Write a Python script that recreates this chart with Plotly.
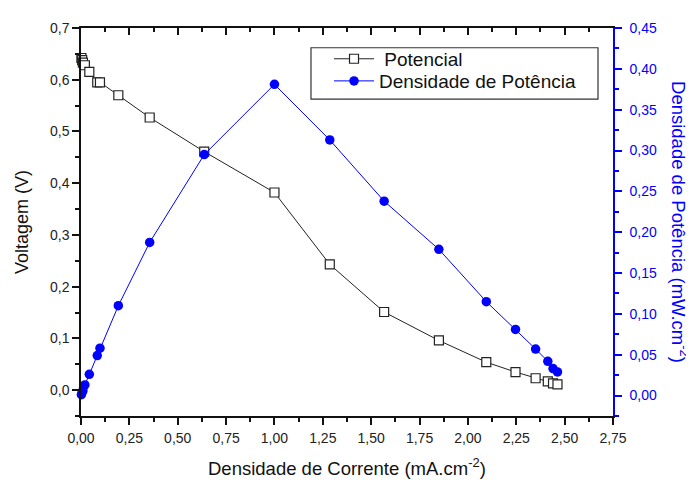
import plotly.graph_objects as go

current = [0.002, 0.006, 0.01, 0.02, 0.043, 0.084, 0.098, 0.193, 0.355, 0.637,
           1.0, 1.286, 1.567, 1.85, 2.095, 2.246, 2.35, 2.413, 2.44, 2.463]
voltage = [0.642, 0.638, 0.633, 0.628, 0.615, 0.595, 0.595, 0.570, 0.527, 0.461,
           0.382, 0.243, 0.151, 0.096, 0.054, 0.035, 0.023, 0.017, 0.013, 0.011]
power = [0.001, 0.004, 0.006, 0.013, 0.026, 0.049, 0.058, 0.110, 0.1875, 0.295,
         0.381, 0.313, 0.238, 0.179, 0.115, 0.081, 0.057, 0.042, 0.033, 0.029]

FONT = "Liberation Sans, Arial, sans-serif"
BLUE = "#0000FF"
DARK = "#111111"

fig = go.Figure()
fig.add_trace(go.Scatter(
    x=current, y=voltage, name="\u00a0Potencial", mode="lines+markers",
    line=dict(color="#222222", width=1),
    marker=dict(symbol="square", size=9, color="white",
                line=dict(width=1.2, color="#222222")),
    cliponaxis=False, xaxis="x", yaxis="y", legend="legend"))
fig.add_trace(go.Scatter(
    x=current, y=power, name="Densidade de Potência", mode="lines+markers",
    line=dict(color=BLUE, width=1),
    marker=dict(symbol="circle", size=9.5, color=BLUE),
    cliponaxis=False, xaxis="x", yaxis="y2", legend="legend2"))
# invisible trace to anchor the top mirror axis
fig.add_trace(go.Scatter(x=[0], y=[0], mode="markers", marker=dict(opacity=0),
                         showlegend=False, hoverinfo="skip", xaxis="x2", yaxis="y"))

common_tick = dict(showgrid=False, zeroline=False, showline=True, linewidth=1.5,
                   ticklen=7, tickwidth=1.5)
legend_style = dict(xanchor="left", yanchor="middle", borderwidth=0,
                    bgcolor="rgba(0,0,0,0)", font=dict(size=19, color=DARK, family=FONT),
                    itemwidth=40)

fig.update_layout(
    width=686, height=472,
    margin=dict(l=73, r=81, t=15, b=64),
    paper_bgcolor="white", plot_bgcolor="white",
    separators=",.",
    font=dict(family=FONT, size=14, color="#222222"),
    showlegend=True,
    legend=dict(x=0.4662, y=0.9203, **legend_style),
    legend2=dict(x=0.4662, y=0.8633, **legend_style),
    xaxis=dict(range=[0, 2.75], dtick=0.25, tick0=0, tickformat=".2f",
               linecolor=DARK, ticks="outside", tickcolor=DARK,
               ticklabelstandoff=1,
               minor=dict(dtick=0.125, ticks="outside", ticklen=4, tickcolor=DARK, tickwidth=1.5),
               tickfont=dict(size=14, color="#222222"), **common_tick),
    xaxis2=dict(range=[0, 2.75], dtick=0.25, tick0=0, overlaying="x", side="top",
                showticklabels=False, linecolor=DARK, ticks="inside", tickcolor=DARK,
                minor=dict(dtick=0.125, ticks="inside", ticklen=4, tickcolor=DARK, tickwidth=1.5),
                **common_tick),
    yaxis=dict(range=[-0.05, 0.7], dtick=0.1, tick0=0, tickformat=".1f",
               linecolor=DARK, ticks="outside", tickcolor=DARK,
               minor=dict(dtick=0.05, ticks="outside", ticklen=4, tickcolor=DARK, tickwidth=1.5),
               tickfont=dict(size=14, color="#222222"), **common_tick),
    yaxis2=dict(range=[-0.025, 0.45], dtick=0.05, tick0=0, tickformat=".2f",
                overlaying="y", side="right",
                linecolor=BLUE, ticks="outside", tickcolor=BLUE,
                ticklabelstandoff=5,
                minor=dict(dtick=0.025, ticks="outside", ticklen=4, tickcolor=BLUE, tickwidth=1.5),
                tickfont=dict(size=14, color=BLUE), **common_tick),
    shapes=[dict(type="rect", xref="paper", yref="paper",
                 x0=0.4323, x1=0.9718, y0=0.8168, y1=0.9491,
                 line=dict(color="#333333", width=1.2), fillcolor="rgba(0,0,0,0)")],
    annotations=[
        dict(text="Densidade de Corrente (mA.cm<sup>-2</sup>)",
             xref="paper", yref="paper", x=0.5, y=-0.1323,
             xanchor="center", yanchor="middle", showarrow=False,
             font=dict(size=18.5, color=DARK, family=FONT)),
        dict(text="Voltagem (V)", textangle=-90,
             xref="paper", yref="paper", x=-0.1109, y=0.5,
             xanchor="center", yanchor="middle", showarrow=False,
             font=dict(size=18, color=DARK, family=FONT)),
        dict(text="Densidade de Potência (mW.cm<sup>-2</sup>)", textangle=90,
             xref="paper", yref="paper", x=1.1259, y=0.5,
             xanchor="center", yanchor="middle", showarrow=False,
             font=dict(size=18.5, color=BLUE, family=FONT)),
    ],
)

fig.write_html("out.html")
